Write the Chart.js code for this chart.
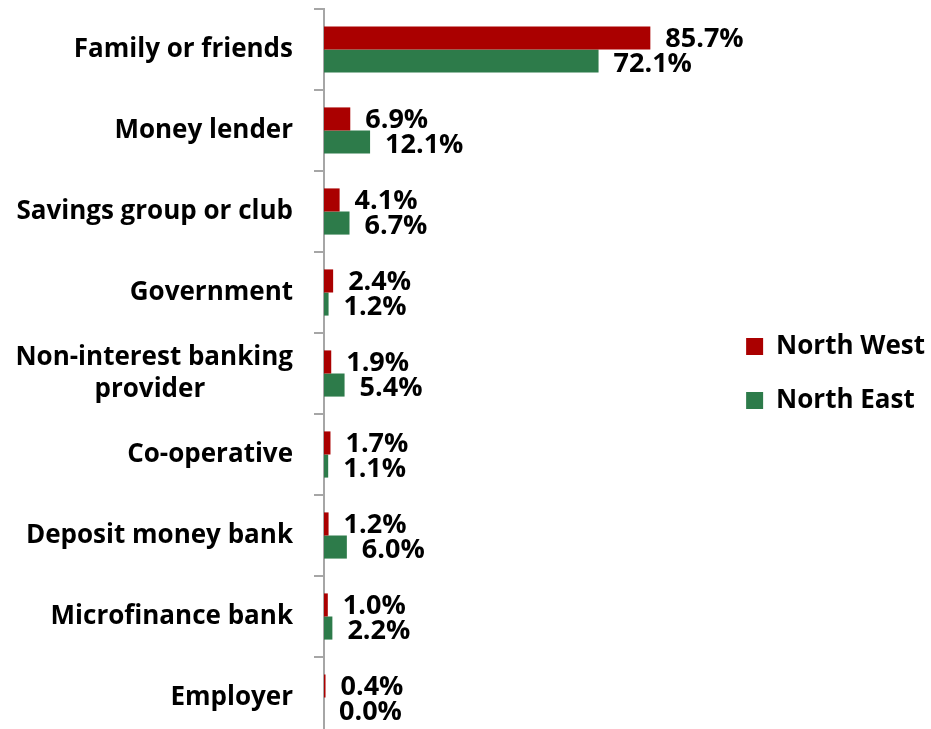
<!DOCTYPE html>
<html>
<head>
<meta charset="utf-8">
<script src="https://cdn.jsdelivr.net/npm/chart.js@4/dist/chart.umd.min.js"></script>
<style>
  html, body { margin: 0; padding: 0; background: #fff; overflow: hidden; }
  #wrap { width: 931px; height: 752px; position: relative; }
</style>
</head>
<body>
<div id="wrap"><canvas id="sourcesChart"></canvas></div>
<script>
const categories = [
  'Family or friends',
  'Money lender',
  'Savings group or club',
  'Government',
  ['Non-interest banking', 'provider             '],
  'Co-operative',
  'Deposit money bank',
  'Microfinance bank',
  'Employer'
];
const northWest = [85.7, 6.9, 4.1, 2.4, 1.9, 1.7, 1.2, 1.0, 0.4];
const northEast = [72.1, 12.1, 6.7, 1.2, 5.4, 1.1, 6.0, 2.2, 0.0];

const FONT = 'Open Sans';

// etiquetas de valor al final de cada barra
const valueLabels = {
  id: 'valueLabels',
  afterDatasetsDraw(chart) {
    const c = chart.ctx;
    c.save();
    c.font = 'bold 27px "' + FONT + '"';
    c.fillStyle = '#000';
    c.textAlign = 'left';
    c.textBaseline = 'middle';
    chart.data.datasets.forEach((ds, i) => {
      chart.getDatasetMeta(i).data.forEach((bar, j) => {
        const yOff = i === 0 ? 1 : 3;
        c.fillText(ds.data[j].toFixed(1) + '%', bar.x + 15, bar.y + yOff);
      });
    });
    c.restore();
  }
};

const ctx = document.getElementById('sourcesChart').getContext('2d');
const sourcesChart = new Chart(ctx, {
  type: 'bar',
  data: {
    labels: categories,
    datasets: [{
      label: 'North West',
      data: northWest,
      backgroundColor: '#AA0000',
      barPercentage: 1,
      categoryPercentage: 0.57
    }, {
      label: 'North East',
      data: northEast,
      backgroundColor: '#2D7B4A',
      barPercentage: 1,
      categoryPercentage: 0.57
    }]
  },
  options: {
    indexAxis: 'y',
    responsive: true,
    maintainAspectRatio: false,
    animation: false,
    layout: { padding: { top: 9, bottom: 14, left: 0, right: -4 } },
    plugins: {
      legend: {
        position: 'right',
        labels: {
          boxWidth: 17,
          boxHeight: 17,
          padding: 28,
          color: '#000',
          font: { family: FONT, size: 26, weight: 'bold' }
        }
      },
      tooltip: { enabled: false }
    },
    scales: {
      x: {
        display: false,
        min: 0,
        max: 103.5
      },
      y: {
        afterFit: (scale) => {
          scale.width = 324;
          scale.paddingTop = 0;
          scale.paddingBottom = 0;
        },
        grid: {
          drawOnChartArea: false,
          drawTicks: true,
          tickLength: 10,
          color: '#A6A6A6',
          lineWidth: 2
        },
        border: { color: '#A6A6A6', width: 2 },
        ticks: {
          padding: 21,
          color: '#000',
          font: { family: FONT, size: 26, weight: 'bold' }
        }
      }
    }
  },
  plugins: [valueLabels]
});
</script>
</body>
</html>
